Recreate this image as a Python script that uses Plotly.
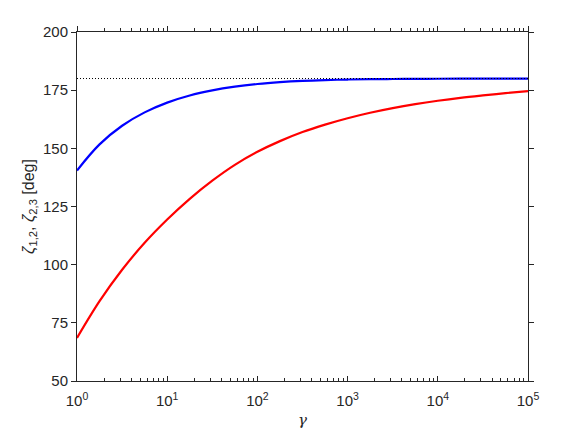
import plotly.graph_objects as go

gamma = [1, 1.778, 3.162, 5.623, 10, 17.78, 31.62, 56.23, 100, 177.8, 316.2, 562.3,
         1000, 1778, 3162, 5623, 10000, 17780, 31620, 56230, 100000]
zeta_12 = [140.5, 151.7, 159.7, 165.45, 169.65, 172.7, 174.9, 176.5, 177.65, 178.45, 179.0, 179.35,
           179.57, 179.72, 179.81, 179.87, 179.91, 179.94, 179.96, 179.97, 179.98]
zeta_23 = [68.5, 84.3, 97.8, 109.4, 119.4, 128.3, 136.1, 142.9, 148.5, 153.1, 157.0, 160.2,
           162.95, 165.3, 167.3, 169.0, 170.45, 171.7, 172.75, 173.7, 174.6]

ref_level = 180
x_ticks = [1, 10, 100, 1000, 10000, 100000]
x_ticktext = ["10<sup>%d</sup>" % i for i in range(6)]
x_minor = [m * 10 ** d for d in range(5) for m in range(2, 10)]
y_ticks = [50, 75, 100, 125, 150, 175, 200]

AXIS = "#262626"
FONT = "Liberation Sans, Arial, sans-serif"

fig = go.Figure()
fig.add_trace(go.Scatter(x=gamma, y=zeta_23, mode="lines",
                         line=dict(color="#ff0000", width=2.2, shape="spline", smoothing=1.0)))
fig.add_trace(go.Scatter(x=gamma, y=zeta_12, mode="lines",
                         line=dict(color="#0000ff", width=2.2, shape="spline", smoothing=1.0)))
fig.add_trace(go.Scatter(x=[1, 100000], y=[ref_level, ref_level], mode="lines",
                         line=dict(color="black", width=1, dash="1px,2px")))
# empty trace so the top axis gets drawn
fig.add_trace(go.Scatter(x=[1, 100000], y=[ref_level, ref_level], xaxis="x2", mode="lines",
                         line=dict(width=0), hoverinfo="skip", opacity=0))

xcommon = dict(type="log", range=[0, 5], showgrid=False, zeroline=False, showline=True,
               linecolor=AXIS, linewidth=1, tickcolor=AXIS, ticklen=5, tickvals=x_ticks)

fig.update_layout(
    width=576, height=430,
    paper_bgcolor="white", plot_bgcolor="white",
    showlegend=False,
    margin=dict(l=69, r=56, t=24, b=57, autoexpand=False),
    font=dict(family=FONT, color=AXIS, size=15),
    xaxis=dict(**xcommon, ticks="inside", ticktext=x_ticktext, ticklabelstandoff=6,
               minor=dict(ticks="inside", ticklen=3, tickcolor=AXIS, showgrid=False, tickvals=x_minor),
               title=dict(text="<i>γ</i>", font=dict(family="DejaVu Serif, serif", size=15), standoff=6),
               tickfont=dict(size=15)),
    xaxis2=dict(**xcommon, overlaying="x", side="top", ticks="outside", showticklabels=False,
                minor=dict(ticks="outside", ticklen=3, tickcolor=AXIS, showgrid=False, tickvals=x_minor)),
    yaxis=dict(range=[50, 200], tickvals=y_ticks, showgrid=False, zeroline=False, showline=True,
               linecolor=AXIS, linewidth=1, ticks="outside", tickcolor=AXIS, ticklen=5,
               mirror="ticks", tickfont=dict(size=15),
               title=dict(text="<i>ζ</i><sub>1,2</sub>, <i>ζ</i><sub>2,3</sub> [deg]",
                          font=dict(size=16), standoff=4)),
)

fig.write_html("out.html")
